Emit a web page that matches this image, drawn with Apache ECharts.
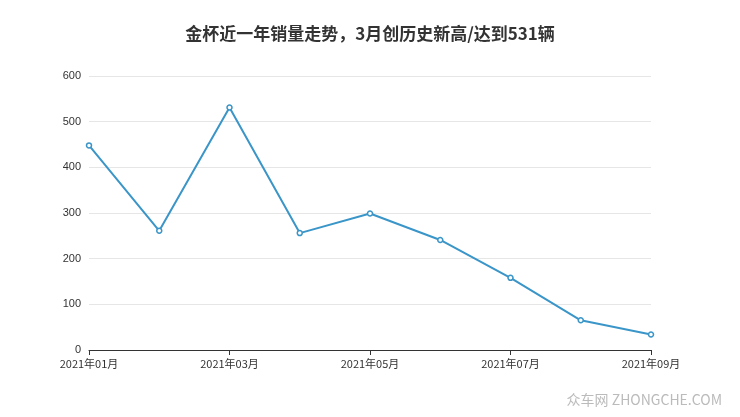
<!DOCTYPE html>
<html><head><meta charset="utf-8">
<script src="https://cdn.jsdelivr.net/npm/echarts@6/dist/echarts.min.js"></script>
<style>html,body{margin:0;padding:0;background:#fff}#c{width:740px;height:417px}</style>
</head><body><div id="c"></div>
<script>
const categories = ['2021年01月','2021年02月','2021年03月','2021年04月','2021年05月','2021年06月','2021年07月','2021年08月','2021年09月'];
const sales = [448, 261, 531, 256, 299, 241, 158, 65, 34];
const chart = echarts.init(document.getElementById('c'));
chart.setOption({
  title: {text: '金杯近一年销量走势，3月创历史新高/达到531辆', left: 'center', top: 20,
    textStyle: {fontSize: 17, fontWeight: 'bold', color: '#333', fontFamily: 'Noto Sans CJK SC'}},
  graphic: [{type: 'text', right: 18, bottom: 10, style: {text: '众车网 ZHONGCHE.COM', fontSize: 14, fill: '#bbb', fontFamily: 'Noto Sans CJK SC'}}],
  grid: {left: 89, right: 89, top: 76, bottom: 67},
  xAxis: {type: 'category', data: categories, boundaryGap: false,
    axisLine: {lineStyle: {color: '#333'}}, axisTick: {show: true, interval: 1},
    axisLabel: {interval: 1, color: '#333', fontSize: 11, fontFamily: 'Noto Sans CJK SC'}},
  yAxis: {type: 'value', min: 0, max: 600, interval: 100,
    axisLine: {show: false}, axisTick: {show: false},
    axisLabel: {color: '#333', fontSize: 11},
    splitLine: {lineStyle: {color: '#e6e6e6'}}},
  series: [{type: 'line', data: sales, symbol: 'circle', symbolSize: 5,
    itemStyle: {color: '#fff', borderColor: '#3a95c8', borderWidth: 1.5},
    lineStyle: {color: '#3a95c8', width: 2}}]
});
</script></body></html>
